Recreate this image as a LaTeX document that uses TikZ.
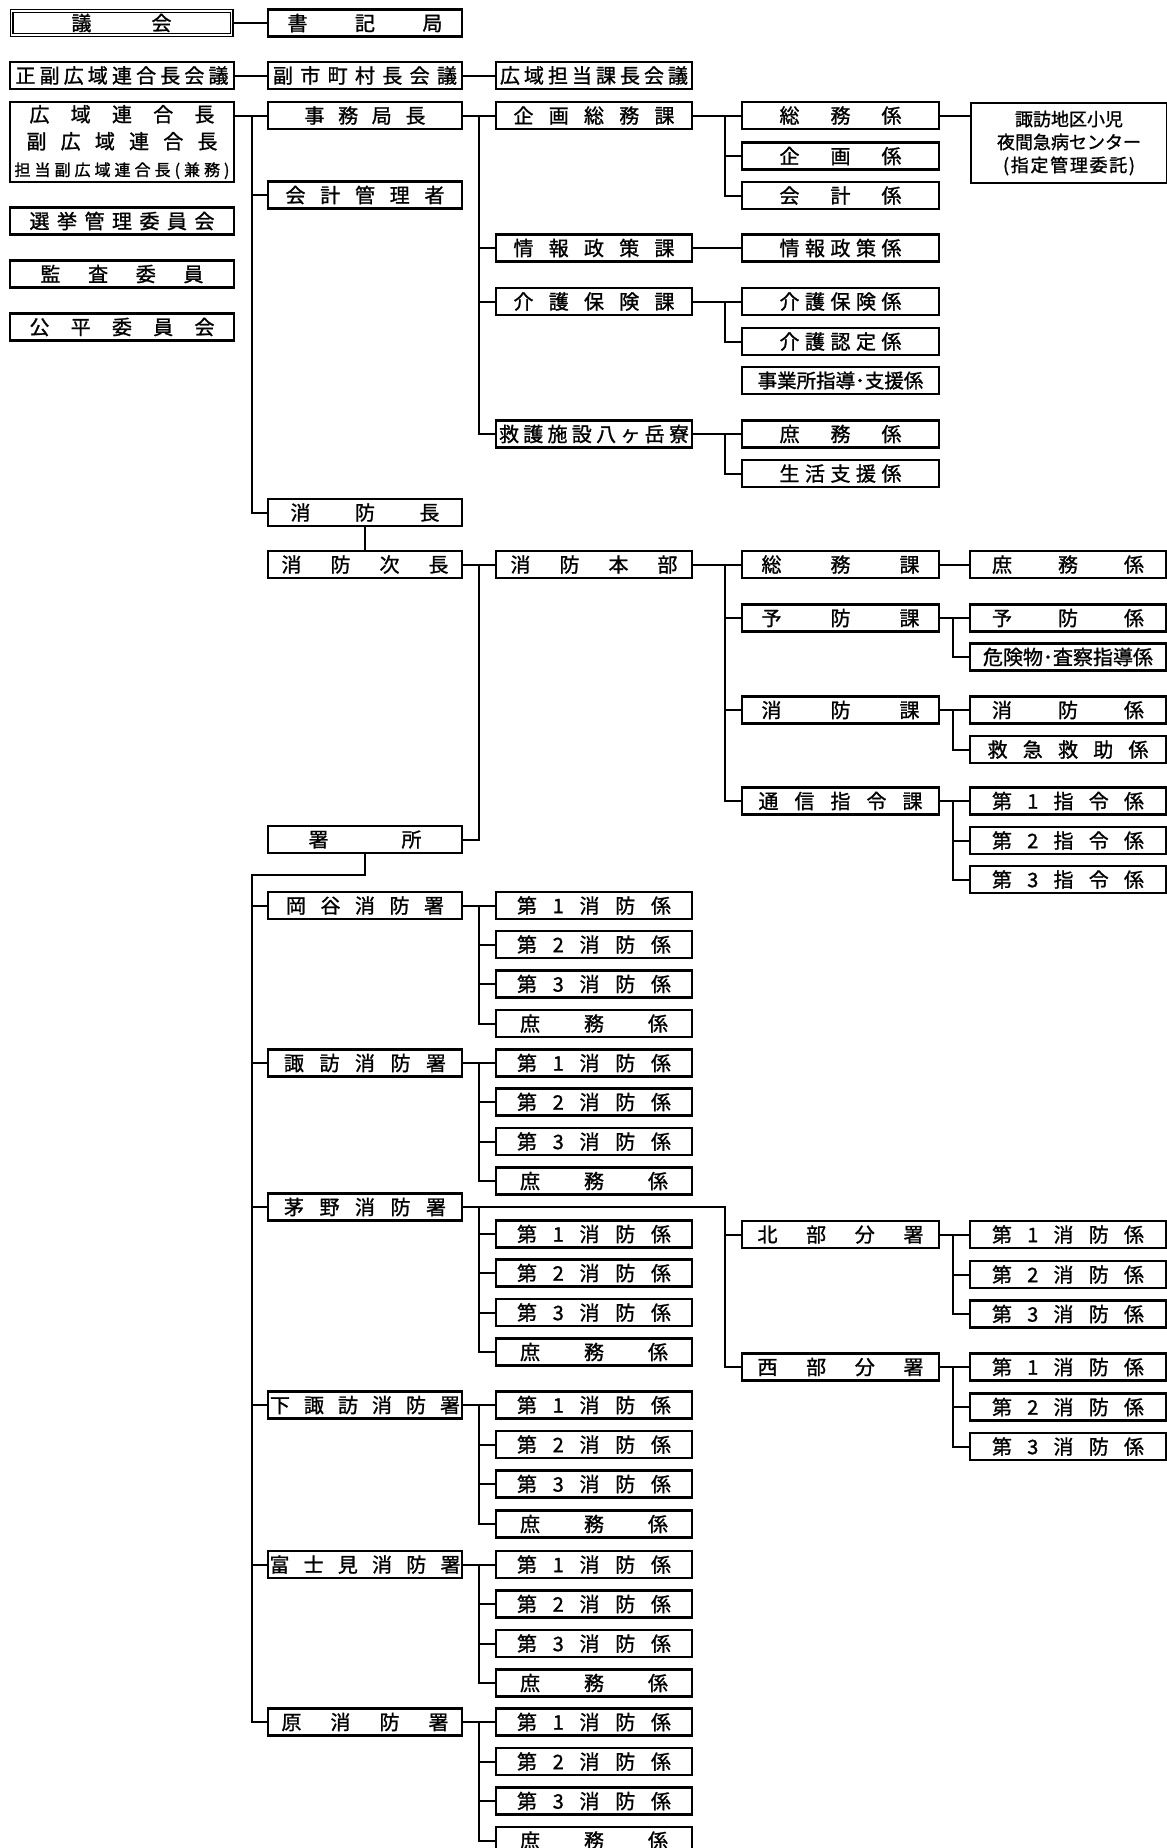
\documentclass[tikz,border=0pt]{standalone}
\usepackage{fontspec}
\setmainfont{Noto Sans CJK JP}[FakeBold=1.2]
\makeatletter
\newcommand\dist[2]{\makebox[#1pt][s]{\@tempswafalse\@tfor\dch:=#2\do{\if@tempswa\hfill\fi\dch\@tempswatrue}}}
\makeatother
\tikzset{
  box/.style={draw, line width=2.2pt, minimum height=27pt, inner sep=0pt, font=\fontsize{20}{24}\selectfont},
  colA/.style={box, minimum width=224pt},
  colB/.style={box, minimum width=194pt},
  colC/.style={box, minimum width=196pt},
  colD/.style={box, minimum width=197pt},
  colE/.style={box, minimum width=196pt},
  conn/.style={line width=2pt},
}
\begin{document}
\begin{tikzpicture}[x=1pt,y=-1pt]
\useasboundingbox (0,0) rectangle (1167,1848);
\fill[white] (0,0) rectangle (1167,1848);
\clip (0,0) rectangle (1167,1848);
\coordinate (L1) at (252,0);
\coordinate (L2) at (479,0);
\coordinate (L3) at (725,0);
\coordinate (L4) at (953,0);
\coordinate (J) at (252,875);
% ---- column A
\node[box, minimum width=220pt, minimum height=24pt, line width=1.2pt, double, double distance=1.6pt] (gikai) at (121.5,23) {\dist{100}{議会}};
\node[colA] (seifuku) at (122,75.5) {\dist{213}{正副広域連合長会議}};
\node[colA, minimum height=80pt, align=center, font=\fontsize{20}{27}\selectfont] (rengo) at (122,142) {\dist{185}{広域連合長}\\\dist{191}{副広域連合長}\\{\fontsize{16}{27}\selectfont\dist{215}{担当副広域連合長(兼務)}}};
\node[colA] (senkyo) at (122,221) {\dist{185}{選挙管理委員会}};
\node[colA] (kansa) at (122,274) {\dist{163}{監査委員}};
\node[colA] (kohei) at (122,327) {\dist{185}{公平委員会}};
% ---- column B
\node[colB] (shoki) at (365,23) {\dist{155}{書記局}};
\node[colB] (fukushi) at (365,75.5) {\dist{184}{副市町村長会議}};
\node[colB] (jimu) at (365,115.5) {\dist{121}{事務局長}};
\node[colB] (kaikei) at (365,195) {\dist{159}{会計管理者}};
\node[colB] (shobocho) at (365,512.5) {\dist{149}{消防長}};
\node[colB] (jicho) at (365,564.5) {\dist{167}{消防次長}};
\node[colB] (shosho) at (365,839.5) {\dist{113}{署所}};
\node[colB] (okaya) at (365,905.5) {\dist{158}{岡谷消防署}};
\node[colB] (suwa) at (365,1063) {\dist{162}{諏訪消防署}};
\node[colB] (chino) at (365,1207) {\dist{162}{茅野消防署}};
\node[colB] (shimo) at (365,1405) {\dist{190}{下諏訪消防署}};
\node[colB] (fuji) at (365,1564.5) {\dist{191}{富士見消防署}};
\node[colB] (hara) at (365,1722) {\dist{167}{原消防署}};
% ---- column C
\node[colC] (koiki) at (594,75.5) {\dist{188}{広域担当課長会議}};
\node[colC] (kikaku) at (594,115.5) {\dist{161}{企画総務課}};
\node[colC] (joho) at (594,248) {\dist{161}{情報政策課}};
\node[colC] (kaigo) at (594,301.5) {\dist{161}{介護保険課}};
\node[colC] (kyugo) at (594,434) {\dist{190}{救護施設八ヶ岳寮}};
\node[colC] (honbu) at (594,564.5) {\dist{167}{消防本部}};
% stations' children
\node[colC] (ok1) at (594,905.5) {\dist{154}{第1消防係}};
\node[colC] (ok2) at (594,944.5) {\dist{154}{第2消防係}};
\node[colC] (ok3) at (594,984) {\dist{154}{第3消防係}};
\node[colC] (ok4) at (594,1023.5) {\dist{148}{庶務係}};
\node[colC] (sw1) at (594,1063) {\dist{154}{第1消防係}};
\node[colC] (sw2) at (594,1102) {\dist{154}{第2消防係}};
\node[colC] (sw3) at (594,1141.5) {\dist{154}{第3消防係}};
\node[colC] (sw4) at (594,1181) {\dist{148}{庶務係}};
\node[colC] (ch1) at (594,1234) {\dist{154}{第1消防係}};
\node[colC] (ch2) at (594,1273) {\dist{154}{第2消防係}};
\node[colC] (ch3) at (594,1312.5) {\dist{154}{第3消防係}};
\node[colC] (ch4) at (594,1352) {\dist{148}{庶務係}};
\node[colC] (sm1) at (594,1405) {\dist{154}{第1消防係}};
\node[colC] (sm2) at (594,1444.5) {\dist{154}{第2消防係}};
\node[colC] (sm3) at (594,1484) {\dist{154}{第3消防係}};
\node[colC] (sm4) at (594,1524) {\dist{148}{庶務係}};
\node[colC] (fj1) at (594,1564.5) {\dist{154}{第1消防係}};
\node[colC] (fj2) at (594,1604) {\dist{154}{第2消防係}};
\node[colC] (fj3) at (594,1643.5) {\dist{154}{第3消防係}};
\node[colC] (fj4) at (594,1683) {\dist{148}{庶務係}};
\node[colC] (hr1) at (594,1722) {\dist{154}{第1消防係}};
\node[colC] (hr2) at (594,1761.5) {\dist{154}{第2消防係}};
\node[colC] (hr3) at (594,1801) {\dist{154}{第3消防係}};
\node[colC] (hr4) at (594,1840.5) {\dist{148}{庶務係}};
% ---- column D
\node[colD] (somuk) at (840.5,115.5) {\dist{122}{総務係}};
\node[colD] (kikakuk) at (840.5,156) {\dist{122}{企画係}};
\node[colD] (kaikeik) at (840.5,195.5) {\dist{122}{会計係}};
\node[colD] (johok) at (840.5,248) {\dist{122}{情報政策係}};
\node[colD] (kaigok) at (840.5,301.5) {\dist{122}{介護保険係}};
\node[colD] (nintei) at (840.5,341.5) {\dist{122}{介護認定係}};
\node[colD, font=\fontsize{19.5}{24}\selectfont] (jigyo) at (840.5,380.5) {事業所指導･支援係};
\node[colD] (shomuk) at (840.5,434) {\dist{122}{庶務係}};
\node[colD] (seikatsu) at (840.5,473.5) {\dist{122}{生活支援係}};
\node[colD] (somuka) at (840.5,564.5) {\dist{158}{総務課}};
\node[colD] (yoboka) at (840.5,618) {\dist{158}{予防課}};
\node[colD] (shoboka) at (840.5,710) {\dist{158}{消防課}};
\node[colD] (tsushin) at (840.5,801) {\dist{164}{通信指令課}};
\node[colD] (hokubu) at (840.5,1234.5) {\dist{166}{北部分署}};
\node[colD] (seibu) at (840.5,1367) {\dist{166}{西部分署}};
% ---- column E
\node[colE, minimum height=80pt, align=center, font=\fontsize{18}{23}\selectfont] (center) at (1069,143) {諏訪地区小児\\夜間急病センター\\\dist{132}{(指定管理委託)}};
\node[colE] (fshomu) at (1068,564.5) {\dist{152}{庶務係}};
\node[colE] (yobok) at (1068,618) {\dist{152}{予防係}};
\node[colE, font=\fontsize{20}{24}\selectfont] (kiken) at (1068,657) {危険物･査察指導係};
\node[colE] (shobok) at (1068,710) {\dist{152}{消防係}};
\node[colE] (kyukyu) at (1068,749.5) {\dist{161}{救急救助係}};
\node[colE] (shirei1) at (1068,801) {\dist{152}{第1指令係}};
\node[colE] (shirei2) at (1068,840.5) {\dist{152}{第2指令係}};
\node[colE] (shirei3) at (1068,879.5) {\dist{152}{第3指令係}};
\node[colE] (hk1) at (1068,1234.5) {\dist{152}{第1消防係}};
\node[colE] (hk2) at (1068,1274.5) {\dist{152}{第2消防係}};
\node[colE] (hk3) at (1068,1314) {\dist{152}{第3消防係}};
\node[colE] (sb1) at (1068,1367) {\dist{152}{第1消防係}};
\node[colE] (sb2) at (1068,1407) {\dist{152}{第2消防係}};
\node[colE] (sb3) at (1068,1446.5) {\dist{152}{第3消防係}};
% ---- connectors
\begin{scope}[conn]
\draw (gikai.east) -- (shoki.west);
\draw (seifuku.east) -- (fukushi.west);
\draw (fukushi.east) -- (koiki.west);
\draw (jimu.west -| rengo.east) -- (jimu.west);
\draw (jimu.west -| L1) |- (shobocho.west);
\draw (kaikei.west -| L1) -- (kaikei.west);
\draw (jimu.east) -- (kikaku.west);
\draw (jimu.east -| L2) |- (kyugo.west);
\draw (joho.west -| L2) -- (joho.west);
\draw (kaigo.west -| L2) -- (kaigo.west);
\draw (kikaku.east) -- (somuk.west);
\draw (kikaku.east -| L3) |- (kaikeik.west);
\draw (kikakuk.west -| L3) -- (kikakuk.west);
\draw (somuk.east) -- (somuk.east -| center.west);
\draw (joho.east) -- (johok.west);
\draw (kaigo.east) -- (kaigok.west);
\draw (kaigo.east -| L3) |- (nintei.west);
\draw (kyugo.east) -- (shomuk.west);
\draw (kyugo.east -| L3) |- (seikatsu.west);
% fire
\draw (shobocho.south) -- (jicho.north);
\draw (jicho.east) -- (honbu.west);
\draw (jicho.east -| L2) |- (shosho.east);
\draw (honbu.east) -- (somuka.west);
\draw (honbu.east -| L3) |- (tsushin.west);
\draw (yoboka.west -| L3) -- (yoboka.west);
\draw (shoboka.west -| L3) -- (shoboka.west);
\draw (somuka.east) -- (fshomu.west);
\draw (yoboka.east) -- (yobok.west);
\draw (yoboka.east -| L4) |- (kiken.west);
\draw (shoboka.east) -- (shobok.west);
\draw (shoboka.east -| L4) |- (kyukyu.west);
\draw (tsushin.east) -- (shirei1.west);
\draw (tsushin.east -| L4) |- (shirei3.west);
\draw (shirei2.west -| L4) -- (shirei2.west);
% stations
\draw (shosho.south) |- (J) |- (hara.west);
\foreach \s in {okaya,suwa,chino,shimo,fuji}{\draw (\s.west -| L1) -- (\s.west);}
\foreach \s/\p in {okaya/ok,suwa/sw,shimo/sm,fuji/fj,hara/hr}{
  \draw (\s.east) -- (\p1.west);
  \draw (\s.east -| L2) |- (\p4.west);
  \draw (\p2.west -| L2) -- (\p2.west);
  \draw (\p3.west -| L2) -- (\p3.west);
}
\draw (chino.east) -- (chino.east -| L3) |- (seibu.west);
\draw (hokubu.west -| L3) -- (hokubu.west);
\draw (chino.east -| L2) |- (ch4.west);
\foreach \i in {1,2,3}{\draw (ch\i.west -| L2) -- (ch\i.west);}
\draw (hokubu.east) -- (hk1.west);
\draw (hokubu.east -| L4) |- (hk3.west);
\draw (hk2.west -| L4) -- (hk2.west);
\draw (seibu.east) -- (sb1.west);
\draw (seibu.east -| L4) |- (sb3.west);
\draw (sb2.west -| L4) -- (sb2.west);
\end{scope}
\end{tikzpicture}
\end{document}
